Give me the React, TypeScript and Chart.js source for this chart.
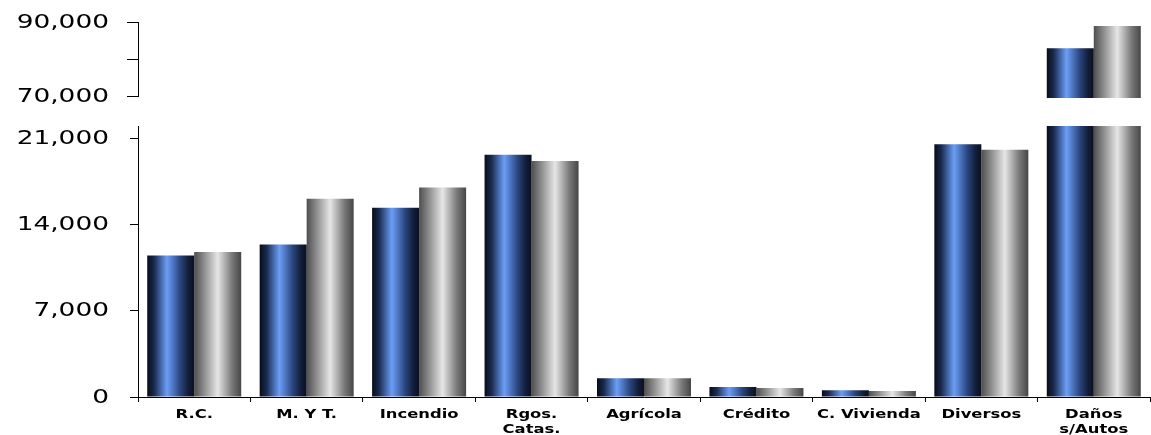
import React, { useEffect, useRef } from 'react';
import { Chart, registerables } from 'chart.js';

Chart.register(...registerables);

// ---- data ----
const categories: string[][] = [
  ['R.C.'],
  ['M. Y T.'],
  ['Incendio'],
  ['Rgos.', 'Catas.'],
  ['Agrícola'],
  ['Crédito'],
  ['C. Vivienda'],
  ['Diversos'],
  ['Daños', 's/Autos'],
];
const seriesBlue = [11480, 12370, 15360, 19670, 1520, 810, 545, 20510, 82900];
const seriesGray = [11780, 16090, 17010, 19150, 1520, 730, 490, 20080, 88900];
const lowerTicks = [0, 7000, 14000, 21000];
const lowerMax = 22000;
const upperTicks = [70000, 80000, 90000];
const upperLabelled = [70000, 90000];
const upperMin = 70000;
const upperMax = 90000;

// ---- style ----
const CAT_PCT = 0.836;
const Y_AXIS_W = 138;
const Y_LABEL_RIGHT = 109;
const BLUE_STOPS: [number, string][] = [
  [0, '#070c18'],
  [0.15, '#1a2b50'],
  [0.42, '#6b9ef6'],
  [0.7, '#2a4680'],
  [0.88, '#121d38'],
  [1, '#0a1020'],
];
const GRAY_STOPS: [number, string][] = [
  [0, '#4e4e4e'],
  [0.2, '#8a8a8a'],
  [0.5, '#e6e6e6'],
  [0.8, '#7a7a7a'],
  [1, '#464646'],
];

function gradFor(side: number, stops: [number, string][]) {
  return (ctx: any) => {
    const chart = ctx.chart;
    const xs = chart.scales && chart.scales.x;
    if (!xs || !chart.chartArea) return stops[2][1];
    const cat = (xs.right - xs.left) / categories.length;
    const center = xs.getPixelForValue(ctx.dataIndex);
    const w = (cat * CAT_PCT) / 2;
    const left = side === 0 ? center - w : center;
    const g = chart.ctx.createLinearGradient(left, 0, left + w, 0);
    stops.forEach(([o, c]) => g.addColorStop(o, c));
    return g;
  };
}

function drawStretched(c: CanvasRenderingContext2D, text: string, x: number, y: number, align: CanvasTextAlign, font: string, sx: number) {
  c.save();
  c.font = font;
  c.fillStyle = '#000';
  c.textBaseline = 'middle';
  c.textAlign = align;
  c.translate(x, y);
  c.scale(sx, 1);
  c.fillText(text, 0, 0);
  c.restore();
}

function yLabelPlugin(labelled: number[]) {
  return {
    id: 'yLabels',
    afterDraw(chart: any) {
      const ys = chart.scales.y;
      ys.ticks.forEach((t: any) => {
        if (!labelled.includes(t.value)) return;
        const py = ys.getPixelForValue(t.value);
        drawStretched(chart.ctx, t.value.toLocaleString('en-US'), Y_LABEL_RIGHT, py + 0.5, 'right', '20px "DejaVu Sans"', 1.32);
      });
    },
  };
}

const xLabelPlugin = {
  id: 'xLabels',
  afterDraw(chart: any) {
    const xs = chart.scales.x;
    categories.forEach((lines, i) => {
      const px = xs.getPixelForValue(i);
      lines.forEach((ln, j) => {
        drawStretched(chart.ctx, ln, px, xs.top + 17.5 + j * 15, 'center', 'bold 13px "DejaVu Sans"', 1.26);
      });
    });
  },
};

function barDataset(data: (number | null)[], side: number, stops: [number, string][], clip: any) {
  return {
    data,
    backgroundColor: gradFor(side, stops),
    borderWidth: 0,
    barPercentage: 1,
    categoryPercentage: CAT_PCT,
    clip,
  };
}

export default function App() {
  const topRef = useRef<HTMLCanvasElement>(null);
  const botRef = useRef<HTMLCanvasElement>(null);

  useEffect(() => {
    const labels = categories.map((l) => l.join(' '));
    const topBlue = seriesBlue.map((v) => (v > lowerMax ? v : null));
    const topGray = seriesGray.map((v) => (v > lowerMax ? v : null));
    const topClip = { left: 0, right: 0, top: 0, bottom: 2 };

    const top = new Chart(topRef.current!, {
      type: 'bar',
      data: {
        labels,
        datasets: [barDataset(topBlue, 0, BLUE_STOPS, topClip), barDataset(topGray, 1, GRAY_STOPS, topClip)] as any,
      },
      options: {
        responsive: false,
        animation: false,
        layout: { padding: { top: 22, bottom: 14, left: 0, right: 1 } },
        plugins: { legend: { display: false }, tooltip: { enabled: false } },
        scales: {
          x: { display: false, offset: true },
          y: {
            min: upperMin,
            max: upperMax,
            afterBuildTicks: (s: any) => {
              s.ticks = upperTicks.map((v) => ({ value: v }));
            },
            afterFit: (s: any) => {
              s.width = Y_AXIS_W;
            },
            ticks: { display: false },
            grid: { drawOnChartArea: false, drawTicks: true, tickLength: 11, color: '#000', lineWidth: 1 },
            border: { display: true, color: '#000', width: 1 },
          },
        },
      } as any,
      plugins: [yLabelPlugin(upperLabelled)],
    });

    const botClip = { left: 0, right: 0, top: 0, bottom: 0 };
    const bot = new Chart(botRef.current!, {
      type: 'bar',
      data: {
        labels,
        datasets: [barDataset(seriesBlue, 0, BLUE_STOPS, botClip), barDataset(seriesGray, 1, GRAY_STOPS, botClip)] as any,
      },
      options: {
        responsive: false,
        animation: false,
        layout: { padding: { top: 16, bottom: 0, left: 0, right: 1 } },
        plugins: { legend: { display: false }, tooltip: { enabled: false } },
        scales: {
          x: {
            offset: true,
            afterFit: (s: any) => {
              s.height = 38;
            },
            ticks: { display: false },
            grid: { offset: true, drawOnChartArea: false, drawTicks: true, tickLength: 5, color: '#000', lineWidth: 1 },
            border: { display: true, color: '#000', width: 1 },
          },
          y: {
            min: 0,
            max: lowerMax,
            afterBuildTicks: (s: any) => {
              s.ticks = lowerTicks.map((v) => ({ value: v }));
            },
            afterFit: (s: any) => {
              s.width = Y_AXIS_W;
            },
            ticks: { display: false },
            grid: { drawOnChartArea: false, drawTicks: true, tickLength: 8, color: '#000', lineWidth: 1 },
            border: { display: true, color: '#000', width: 1 },
          },
        },
      } as any,
      plugins: [yLabelPlugin(lowerTicks), xLabelPlugin],
    });

    return () => {
      top.destroy();
      bot.destroy();
    };
  }, []);

  return (
    <div style={{ position: 'absolute', left: 0, top: 0, width: 1151, height: 435, background: '#fff', overflow: 'hidden' }}>
      <canvas ref={topRef} width={1151} height={110} style={{ position: 'absolute', left: 0, top: 0 }} />
      <canvas ref={botRef} width={1151} height={325} style={{ position: 'absolute', left: 0, top: 110 }} />
    </div>
  );
}
